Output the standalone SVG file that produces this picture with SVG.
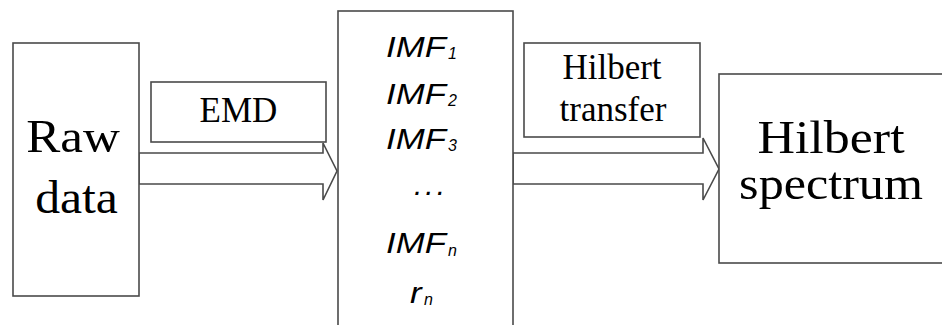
<svg xmlns="http://www.w3.org/2000/svg" width="942" height="325" viewBox="0 0 942 325">
  <style>
    .box { fill: #ffffff; stroke: #4a4a4a; stroke-width: 1.6; }
    .arrow { fill: #ffffff; stroke: #4a4a4a; stroke-width: 1.6; stroke-linejoin: miter; }
    .serif { font-family: "Liberation Serif", "Times New Roman", serif; fill: #000000; }
    .sans { font-family: "Liberation Sans", Arial, sans-serif; font-style: italic; fill: #000000; }
    .big { font-size: 46px; }
    .mid { font-size: 35px; }
    .imf { font-size: 30px; }
    .sub { font-size: 16px; }
  </style>
  <rect width="942" height="325" fill="#ffffff"/>

  <!-- block arrows -->
  <g id="connectors">
    <polygon class="arrow" points="139,153 323,153 323,143 337,171 323,200 323,184 139,184"/>
    <polygon class="arrow" points="513,153 703,153 703,138 719,169 703,200 703,184 513,184"/>
  </g>

  <g id="raw-data">
    <rect class="box" x="13" y="43" width="126" height="253"/>
    <text class="serif big" transform="matrix(1.11,0,0,1,73,0)" x="0" y="152" text-anchor="middle">Raw</text>
    <text class="serif big" transform="matrix(1.08,0,0,1,76.5,0)" x="0" y="213" text-anchor="middle">data</text>
  </g>

  <g id="emd">
    <rect class="box" x="151" y="82" width="175" height="60"/>
    <text class="serif mid" x="238.5" y="122" text-anchor="middle">EMD</text>
  </g>

  <g id="imfs">
    <rect class="box" x="338" y="11" width="175" height="330"/>
    <text class="sans imf" transform="matrix(1.16,0,0,1,386,0)" x="0" y="57">IMF</text>
    <text class="sans sub" x="448" y="59">1</text>
    <text class="sans imf" transform="matrix(1.16,0,0,1,386,0)" x="0" y="104">IMF</text>
    <text class="sans sub" x="448" y="106">2</text>
    <text class="sans imf" transform="matrix(1.16,0,0,1,386,0)" x="0" y="149">IMF</text>
    <text class="sans sub" x="448" y="151">3</text>
    <text class="sans imf" x="414" y="195" letter-spacing="3">...</text>
    <text class="sans imf" transform="matrix(1.16,0,0,1,386,0)" x="0" y="253">IMF</text>
    <text class="sans sub" x="448" y="256">n</text>
    <text class="sans imf" transform="matrix(1.16,0,0,1,410,0)" x="0" y="303">r</text>
    <text class="sans sub" x="424" y="305">n</text>
  </g>

  <g id="hilbert-transfer">
    <rect class="box" x="524" y="43" width="176" height="94"/>
    <text class="serif mid" x="612" y="79" text-anchor="middle">Hilbert</text>
    <text class="serif mid" x="613" y="121" text-anchor="middle">transfer</text>
  </g>

  <g id="hilbert-spectrum">
    <rect class="box" x="719" y="74" width="240" height="189"/>
    <text class="serif big" transform="matrix(1.13,0,0,1,831,0)" x="0" y="153" text-anchor="middle">Hilbert</text>
    <text class="serif big" transform="matrix(1.09,0,0,1,831,0)" x="0" y="199" text-anchor="middle">spectrum</text>
  </g>
</svg>
